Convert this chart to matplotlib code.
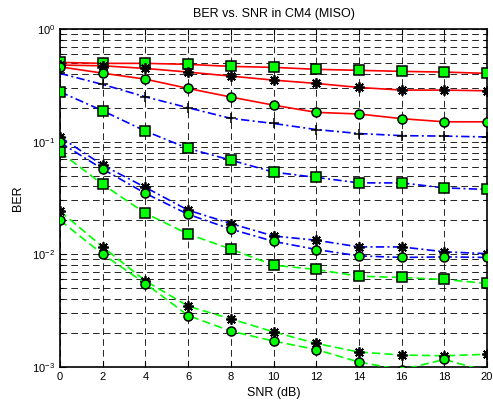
import matplotlib
matplotlib.use("Agg")
import matplotlib.pyplot as plt
from matplotlib.ticker import LogLocator, FixedLocator, NullFormatter

plt.rcParams['font.family'] = ['Liberation Sans', 'DejaVu Sans']
plt.rcParams['mathtext.fontset'] = 'custom'
plt.rcParams['mathtext.rm'] = 'Liberation Sans'
plt.rcParams['mathtext.it'] = 'Liberation Sans'
plt.rcParams['mathtext.bf'] = 'Liberation Sans'

# --- dane ---
snr = [0, 2, 4, 6, 8, 10, 12, 14, 16, 18, 20]

red_sq = [0.506, 0.496, 0.496, 0.486, 0.466, 0.457, 0.439, 0.430, 0.421, 0.415, 0.404]
red_star = [0.479, 0.472, 0.447, 0.415, 0.382, 0.352, 0.329, 0.303, 0.287, 0.287, 0.283]
red_circ = [0.462, 0.406, 0.359, 0.297, 0.249, 0.211, 0.182, 0.176, 0.160, 0.150, 0.150]

blue_plus = [0.404, 0.322, 0.250, 0.200, 0.161, 0.145, 0.128, 0.118, 0.113, 0.112, 0.110]
blue_sq = [0.277, 0.188, 0.124, 0.0870, 0.0685, 0.0536, 0.0481, 0.0430, 0.0430, 0.0388, 0.0376]
blue_star = [0.110, 0.0618, 0.0392, 0.0246, 0.0187, 0.0145, 0.0133, 0.0116, 0.0116, 0.0105, 0.0101]
blue_circ = [0.0984, 0.0570, 0.0347, 0.0226, 0.0167, 0.0130, 0.0110, 0.00966, 0.00935, 0.00946, 0.00935]

green_sq = [0.0807, 0.0417, 0.0231, 0.0151, 0.0111, 0.00798, 0.00731, 0.00637, 0.00621, 0.00596, 0.00549]
green_star = [0.0241, 0.0116, 0.00579, 0.00345, 0.00266, 0.00204, 0.00161, 0.00135, 0.00127, 0.00125, 0.00129]
green_circ = [0.0200, 0.0100, 0.00548, 0.00285, 0.00207, 0.00169, 0.00142, 0.00110, 0.00094, 0.00116, 0.00091]

x_ticks = [0, 2, 4, 6, 8, 10, 12, 14, 16, 18, 20]
y_ticks = [1e-3, 1e-2, 1e-1, 1e0]
y_tick_labels = [r'$10^{-3}$', r'$10^{-2}$', r'$10^{-1}$', r'$10^{0}$']

RED = "#ff0000"
BLUE = "#0000ff"
GREEN = "#00ff00"

fig = plt.figure(figsize=(4.93, 4.04), dpi=100, facecolor="white")
ax = fig.add_axes([0.1217, 0.0923, 0.8663, 0.8357])

LW = 1.2
sq = dict(marker='s', markersize=6.5, markerfacecolor=GREEN, markeredgecolor='black', markeredgewidth=1.1)
ci = dict(marker='o', markersize=6.5, markerfacecolor=GREEN, markeredgecolor='black', markeredgewidth=1.1)
st = dict(marker=(8, 2, 0), markersize=7.5, markerfacecolor='black', markeredgecolor='black', markeredgewidth=1.3)
pl = dict(marker='+', markersize=7.5, markeredgecolor='black', markeredgewidth=1.1)

dashdot = (0, (5, 2, 1.2, 2))
dashed = (0, (5, 2.5))

ax.plot(snr, red_sq, color=RED, lw=LW, ls='-', **sq, zorder=3)
ax.plot(snr, red_star, color=RED, lw=LW, ls='-', **st, zorder=3)
ax.plot(snr, red_circ, color=RED, lw=LW, ls='-', **ci, zorder=3)

ax.plot(snr, blue_plus, color=BLUE, lw=LW, ls=dashdot, **pl, zorder=3)
ax.plot(snr, blue_sq, color=BLUE, lw=LW, ls=dashdot, **sq, zorder=3)
ax.plot(snr, blue_star, color=BLUE, lw=LW, ls=dashdot, **st, zorder=3)
ax.plot(snr, blue_circ, color=BLUE, lw=LW, ls=dashdot, **ci, zorder=3)

ax.plot(snr, green_sq, color=GREEN, lw=LW, ls=dashed, **sq, zorder=3)
ax.plot(snr, green_star, color=GREEN, lw=LW, ls=dashed, **st, zorder=3)
ax.plot(snr, green_circ, color=GREEN, lw=LW, ls=dashed, **ci, zorder=3)

ax.set_yscale('log')
ax.set_xlim(0, 20)
ax.set_ylim(1e-3, 1)
ax.xaxis.set_major_locator(FixedLocator(x_ticks))
ax.set_xticklabels([str(t) for t in x_ticks])
ax.yaxis.set_major_locator(FixedLocator(y_ticks))
ax.set_yticklabels(y_tick_labels)
ax.yaxis.set_minor_locator(LogLocator(base=10, subs=range(2, 10)))
ax.yaxis.set_minor_formatter(NullFormatter())

grid_ls = (0, (8, 5))
ax.grid(True, which='major', axis='both', color='black', lw=0.6, ls=grid_ls, zorder=1)
ax.grid(True, which='minor', axis='y', color='black', lw=0.6, ls=grid_ls, zorder=1)
ax.set_axisbelow(True)

ax.tick_params(which='both', direction='in', top=True, right=True, labelsize=8, colors='black', width=0.8)
ax.tick_params(which='major', length=4)
ax.tick_params(which='minor', length=2.5)
for s in ax.spines.values():
    s.set_color('black')
    s.set_linewidth(1.2)

ax.set_title("BER vs. SNR in CM4 (MISO)", fontsize=9, pad=9)
ax.set_xlabel("SNR (dB)", fontsize=9, labelpad=4)
ax.set_ylabel("BER", fontsize=9, labelpad=6)

fig.savefig("out.png", dpi=100, facecolor="white")
